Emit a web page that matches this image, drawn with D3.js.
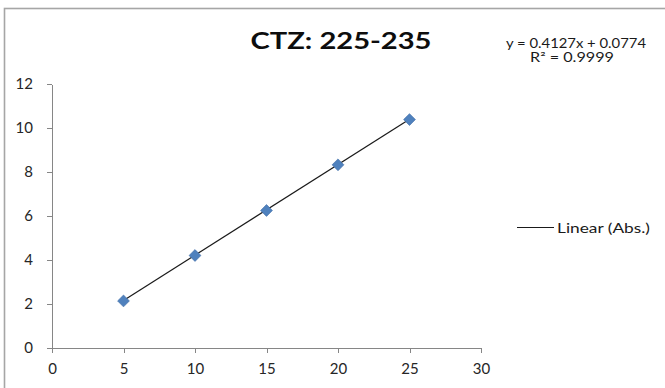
<!DOCTYPE html>
<html>
<head>
<meta charset="utf-8">
<script src="https://cdn.jsdelivr.net/npm/d3@7"></script>
<style>
	body { margin: 0; background: #fff; }
	svg { display: block; font-family: Lato, "Open Sans", sans-serif; }
	.axis path, .axis line { stroke: #868686; shape-rendering: crispEdges; }
</style>
</head>
<body>
<svg id="chart"></svg>
<script>
	'use strict';

	// data
	var concentrations = [5, 10, 15, 20, 25];
	var absorbances = [2.12, 4.19, 6.24, 8.32, 10.38];
	var xTicks = [0, 5, 10, 15, 20, 25, 30];
	var yTicks = [0, 2, 4, 6, 8, 10, 12];
	var slope = 0.4127, intercept = 0.0774;
	var chartTitle = 'CTZ: 225-235';
	var equationLines = ['y = 0.4127x + 0.0774', 'R\u00b2 = 0.9999'];
	var legendLabel = 'Linear (Abs.)';

	var width = 665, height = 388;
	var plot = {left: 52, right: 481, top: 84, bottom: 347.5};

	var svg = d3.select('#chart')
		.attr('width', width)
		.attr('height', height);

	// chart frame (runs off the right and bottom edge)
	svg.append('rect')
		.attr('x', 4.5).attr('y', 8.5)
		.attr('width', 700).attr('height', 420)
		.attr('fill', '#fff')
		.attr('stroke', '#a6a6a6')
		.attr('stroke-width', 1.6);

	var x = d3.scaleLinear().domain([0, 30]).range([plot.left, plot.right]);
	var y = d3.scaleLinear().domain([0, 12]).range([plot.bottom, plot.top]);

	// axes
	var xAxis = svg.append('g')
		.attr('class', 'axis')
		.attr('transform', 'translate(0,' + plot.bottom + ')')
		.call(d3.axisBottom(x).tickValues(xTicks).tickSize(5).tickPadding(9).tickSizeOuter(0));
	xAxis.selectAll('text').attr('dy', '0.8em');

	var yAxis = svg.append('g')
		.attr('class', 'axis')
		.attr('transform', 'translate(' + plot.left + ',0)')
		.call(d3.axisLeft(y).tickValues(yTicks).tickSize(5).tickPadding(14).tickSizeOuter(0));

	svg.selectAll('.axis text')
		.style('font-size', '15px')
		.style('font-family', 'Lato, sans-serif')
		.style('fill', '#262626');

	// trendline across the data range
	var trend = d3.extent(concentrations).map(function(c) {
		return {x: c, y: slope * c + intercept};
	});
	svg.append('path')
		.datum(trend)
		.attr('fill', 'none')
		.attr('stroke', '#1a1a1a')
		.attr('stroke-width', 1.2)
		.attr('d', d3.line()
			.x(function(d) { return x(d.x); })
			.y(function(d) { return y(d.y); }));

	// diamond markers
	svg.append('g').selectAll('path')
		.data(concentrations)
		.join('path')
		.attr('transform', function(d, i) {
			return 'translate(' + x(d) + ',' + y(absorbances[i]) + ') rotate(45)';
		})
		.attr('d', d3.symbol(d3.symbolSquare, 70))
		.attr('fill', '#4f81bd')
		.attr('stroke', '#426fa8')
		.attr('stroke-width', 0.6);

	// title
	svg.append('text')
		.attr('x', 250.5).attr('y', 48.5)
		.attr('textLength', 181)
		.attr('lengthAdjust', 'spacingAndGlyphs')
		.style('font-size', '22.5px')
		.style('font-weight', 'bold')
		.style('fill', '#0d0d0d')
		.text(chartTitle);

	// trendline equation
	svg.append('text')
		.attr('x', 506).attr('y', 47.5)
		.attr('textLength', 140)
		.attr('lengthAdjust', 'spacingAndGlyphs')
		.style('font-size', '12.5px')
		.style('fill', '#1a1a1a')
		.text(equationLines[0]);
	svg.append('text')
		.attr('x', 530).attr('y', 62)
		.attr('textLength', 84)
		.attr('lengthAdjust', 'spacingAndGlyphs')
		.style('font-size', '12.5px')
		.style('fill', '#1a1a1a')
		.text(equationLines[1]);

	// legend
	svg.append('line')
		.attr('x1', 517).attr('x2', 554)
		.attr('y1', 227.5).attr('y2', 227.5)
		.attr('stroke', '#1a1a1a')
		.attr('stroke-width', 1.2);
	svg.append('text')
		.attr('x', 557).attr('y', 232.5)
		.attr('textLength', 93)
		.attr('lengthAdjust', 'spacingAndGlyphs')
		.style('font-size', '13.5px')
		.style('fill', '#1a1a1a')
		.text(legendLabel);
</script>
</body>
</html>
